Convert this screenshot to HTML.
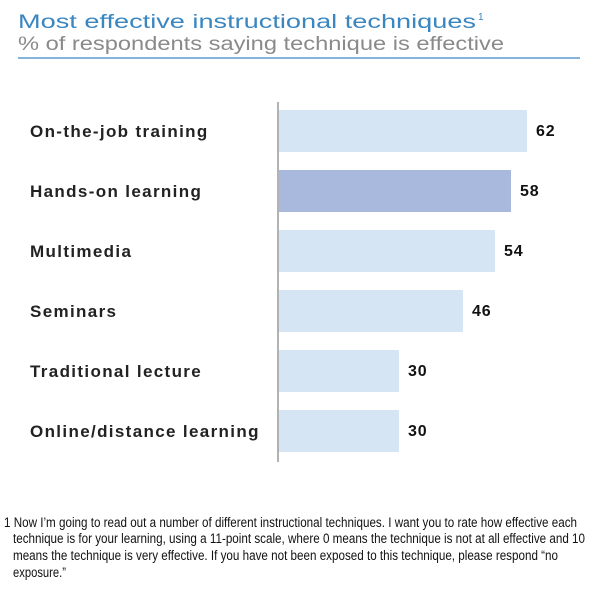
<!DOCTYPE html>
<html><head><meta charset="utf-8"><style>
html,body{margin:0;padding:0;background:#fff;}
svg{display:block;font-family:"Liberation Sans",Arial,sans-serif;}
</style></head><body>
<svg id="chart" width="614" height="595" viewBox="0 0 614 595">
  <text x="18" y="28" font-size="19" fill="#3a86c0" textLength="458" lengthAdjust="spacingAndGlyphs">Most effective instructional techniques</text>
  <text x="478" y="20" font-size="10" fill="#3a86c0">1</text>
  <text x="18" y="50" font-size="19" fill="#8a8a8a" textLength="486" lengthAdjust="spacingAndGlyphs">% of respondents saying technique is effective</text>
  <line x1="18" y1="58" x2="580" y2="58" stroke="#5b9bd0" stroke-width="1.5"/>
  <g id="bars"></g>
  <line x1="278" y1="102" x2="278" y2="462" stroke="#999" stroke-width="1.5"/>
  <g font-size="13.5" fill="#111">
    <text x="4" y="527" textLength="573" lengthAdjust="spacingAndGlyphs">1 Now I’m going to read out a number of different instructional techniques. I want you to rate how effective each</text>
    <text x="13" y="543" textLength="572" lengthAdjust="spacingAndGlyphs">technique is for your learning, using a 11-point scale, where 0 means the technique is not at all effective and 10</text>
    <text x="13" y="560" textLength="545" lengthAdjust="spacingAndGlyphs">means the technique is very effective. If you have not been exposed to this technique, please respond “no</text>
    <text x="13" y="577" textLength="53" lengthAdjust="spacingAndGlyphs">exposure.”</text>
  </g>
</svg>
<script>
const categories = ["On-the-job training","Hands-on learning","Multimedia","Seminars","Traditional lecture","Online/distance learning"];
const values = [62,58,54,46,30,30];
const highlighted = [false,true,false,false,false,false];
const NS="http://www.w3.org/2000/svg";
const x0=279, pxPerUnit=4;
function xScale(v){return x0+v*pxPerUnit;}
function yBand(i){return 110+i*60;}
const g=document.getElementById('bars');
categories.forEach((c,i)=>{
  const y=yBand(i);
  const r=document.createElementNS(NS,'rect');
  r.setAttribute('x',x0);r.setAttribute('y',y);
  r.setAttribute('width',xScale(values[i])-x0);r.setAttribute('height',42);
  r.setAttribute('fill',highlighted[i]?'#a9b9de':'#d6e5f4');
  
  
  g.appendChild(r);
  const l=document.createElementNS(NS,'text');
  l.setAttribute('x',30);l.setAttribute('y',y+27);
  l.setAttribute('font-size','17');l.setAttribute('font-weight','bold');
  l.setAttribute('letter-spacing','1.35');l.setAttribute('fill','#222');
  l.textContent=c;
  
  
  g.appendChild(l);
  const v=document.createElementNS(NS,'text');
  v.setAttribute('x',xScale(values[i])+9);v.setAttribute('y',y+26);
  v.setAttribute('font-size','16');v.setAttribute('font-weight','bold');
  v.setAttribute('letter-spacing','0.8');v.setAttribute('fill','#111');
  v.textContent=values[i];
  
  
  g.appendChild(v);
});
</script>
</body></html>
